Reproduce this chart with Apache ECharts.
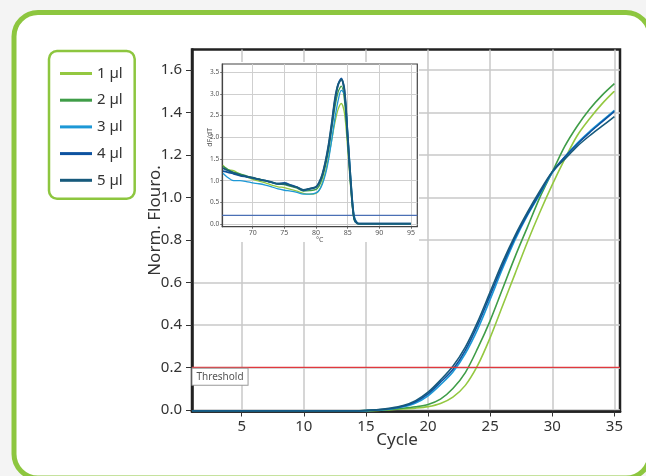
<!DOCTYPE html>
<html>
<head>
<meta charset="utf-8">
<script src="https://cdn.jsdelivr.net/npm/echarts@6/dist/echarts.min.js"></script>
<style>
  html, body { margin: 0; padding: 0; background: #f4f4f4; }
  #chart { width: 646px; height: 476px; }
</style>
</head>
<body>
<div id="chart"></div>
<script>
// amplification curves (main plot)
const cycles = [1, 2, 3, 4, 5, 6, 7, 8, 9, 10, 11, 12, 13, 14, 15, 16, 17, 18, 19, 20,
  21, 22, 23, 24, 25, 26, 27, 28, 29, 30, 31, 32, 33, 34, 35];
const vol1 = [-0.005, -0.005, -0.005, -0.005, -0.005, -0.005, -0.005, -0.005, -0.005, -0.005, -0.005, -0.005, -0.005, -0.005,
  -0.004, -0.003, 0.001, 0.004, 0.008, 0.015, 0.03, 0.06, 0.115, 0.21, 0.34, 0.49, 0.64, 0.79, 0.93, 1.06, 1.18, 1.29, 1.37, 1.44, 1.50];
const vol2 = [-0.005, -0.005, -0.005, -0.005, -0.005, -0.005, -0.005, -0.005, -0.005, -0.005, -0.005, -0.005, -0.005, -0.005,
  -0.004, -0.002, 0.002, 0.007, 0.014, 0.025, 0.05, 0.10, 0.175, 0.29, 0.42, 0.57, 0.72, 0.86, 1.00, 1.12, 1.24, 1.335, 1.415, 1.48, 1.535];
const vol3 = [-0.006, -0.006, -0.006, -0.006, -0.006, -0.006, -0.006, -0.006, -0.006, -0.006, -0.006, -0.006, -0.006, -0.006,
  -0.004, -0.001, 0.004, 0.014, 0.032, 0.066, 0.118, 0.178, 0.265, 0.38, 0.52, 0.665, 0.80, 0.915, 1.015, 1.115, 1.19, 1.255, 1.31, 1.36, 1.41];
const vol4 = [-0.006, -0.006, -0.006, -0.006, -0.006, -0.006, -0.006, -0.006, -0.006, -0.006, -0.006, -0.006, -0.006, -0.006,
  -0.003, 0.0, 0.006, 0.017, 0.038, 0.075, 0.13, 0.19, 0.28, 0.40, 0.54, 0.68, 0.81, 0.92, 1.02, 1.12, 1.19, 1.25, 1.305, 1.355, 1.405];
const vol5 = [-0.006, -0.006, -0.006, -0.006, -0.006, -0.006, -0.006, -0.006, -0.006, -0.006, -0.006, -0.006, -0.006, -0.006,
  -0.003, 0.001, 0.008, 0.02, 0.043, 0.083, 0.14, 0.205, 0.295, 0.415, 0.555, 0.695, 0.82, 0.93, 1.03, 1.12, 1.18, 1.24, 1.29, 1.335, 1.38];
const threshold = 0.2;
const cycleRange = [1, 35.45];
const fluoroRange = [-0.008, 1.696];
const xTicks = [5, 10, 15, 20, 25, 30, 35];
const yTicks = [0, 0.2, 0.4, 0.6, 0.8, 1.0, 1.2, 1.4, 1.6];

// melt curves (inset)
const meltTemps = [65.3, 66, 67, 68, 69, 70, 71, 72, 73, 74, 75, 76, 77, 78, 79, 80, 80.5, 81, 81.5, 82,
  82.5, 83, 83.5, 84, 84.5, 85, 85.5, 86, 86.5, 87, 88, 90, 92, 94, 95];
const melt1 = [1.36, 1.26, 1.23, 1.15, 1.09, 1.03, 0.99, 0.95, 0.90, 0.86, 0.84, 0.80, 0.76, 0.71, 0.69, 0.71, 0.78, 0.95, 1.2, 1.55,
  1.95, 2.35, 2.65, 2.78, 2.55, 1.75, 0.8, 0.12, 0.02, 0.01, 0.01, 0.01, 0.01, 0.01, 0.01];
const melt2 = [1.33, 1.27, 1.19, 1.16, 1.11, 1.07, 1.04, 1.0, 0.96, 0.92, 0.91, 0.87, 0.83, 0.76, 0.77, 0.80, 0.88, 1.06, 1.35, 1.72,
  2.2, 2.7, 3.05, 3.18, 2.85, 1.9, 0.85, 0.1, 0.01, 0.0, 0.0, 0.0, 0.0, 0.0, 0.0];
const melt3 = [1.17, 1.08, 1.0, 1.0, 0.98, 0.95, 0.93, 0.90, 0.86, 0.81, 0.78, 0.76, 0.73, 0.69, 0.69, 0.72, 0.78, 0.92, 1.15, 1.5,
  1.95, 2.45, 2.85, 3.08, 3.0, 2.15, 1.05, 0.22, 0.03, 0.01, 0.01, 0.01, 0.01, 0.01, 0.01];
const melt4 = [1.22, 1.20, 1.16, 1.12, 1.09, 1.06, 1.03, 1.0, 0.96, 0.93, 0.95, 0.90, 0.85, 0.78, 0.81, 0.85, 0.95, 1.13, 1.42, 1.8,
  2.3, 2.85, 3.22, 3.36, 3.05, 2.0, 0.92, 0.14, 0.02, 0.01, 0.01, 0.01, 0.01, 0.01, 0.01];
const melt5 = [1.29, 1.24, 1.18, 1.13, 1.10, 1.07, 1.03, 1.0, 0.97, 0.93, 0.93, 0.89, 0.85, 0.79, 0.82, 0.86, 0.96, 1.15, 1.45, 1.85,
  2.35, 2.9, 3.22, 3.33, 3.1, 2.05, 0.98, 0.16, 0.03, 0.01, 0.01, 0.01, 0.01, 0.01, 0.01];
const meltThreshold = 0.2;
const tempRange = [65.2, 96];
const dfdtRange = [-0.06, 3.69];
const meltXTicks = [70, 75, 80, 85, 90, 95];
const meltYTicks = [0, 0.5, 1.0, 1.5, 2.0, 2.5, 3.0, 3.5];

const labels = ["1 µl", "2 µl", "3 µl", "4 µl", "5 µl"];
const colors = ["#94c840", "#3f9d48", "#1d98d6", "#0d52a0", "#175a7c"];

const ampData = [vol1, vol2, vol3, vol4, vol5];
const meltData = [melt1, melt2, melt3, melt4, melt5];
const font = "Noto Sans";

let chart = echarts.init(document.getElementById("chart"));

let series = [];
ampData.forEach((vals, i) => {
  series.push({
    name: labels[i],
    type: "line",
    xAxisIndex: 0,
    yAxisIndex: 0,
    data: cycles.map((c, k) => [c, vals[k]]),
    symbol: "none",
    smooth: 0.3,
    lineStyle: { color: colors[i], width: 1.6 },
    itemStyle: { color: colors[i] },
    z: 2,
  });
});
// threshold line, drawn right to left so the end label sits at the left edge
series.push({
  name: "Threshold",
  type: "line",
  xAxisIndex: 0,
  yAxisIndex: 0,
  data: [[cycleRange[1], threshold], [cycleRange[0], threshold]],
  symbol: "none",
  silent: true,
  lineStyle: { color: "#e0393e", width: 1.2 },
  itemStyle: { color: "#e0393e" },
  z: 2,
  endLabel: {
    show: true,
    formatter: "Threshold",
    align: "left",
    verticalAlign: "top",
    distance: 0,
    offset: [0.5, 1.5],
    fontFamily: font,
    fontSize: 10,
    color: "#555",
    backgroundColor: "#fff",
    borderColor: "#999",
    borderWidth: 1,
    padding: [3, 4, 3, 4],
  },
});
meltData.forEach((vals, i) => {
  series.push({
    name: labels[i],
    type: "line",
    xAxisIndex: 1,
    yAxisIndex: 1,
    data: meltTemps.map((t, k) => [t, vals[k]]),
    symbol: "none",
    smooth: 0.3,
    lineStyle: { color: colors[i], width: i >= 3 ? 1.8 : 1.3 },
    itemStyle: { color: colors[i] },
    z: 5,
  });
});
series.push({
  name: "Melt threshold",
  type: "line",
  xAxisIndex: 1,
  yAxisIndex: 1,
  data: [[tempRange[0], meltThreshold], [tempRange[1], meltThreshold]],
  symbol: "none",
  silent: true,
  lineStyle: { color: "#4a6fb5", width: 1.2 },
  itemStyle: { color: "#4a6fb5" },
  z: 4,
});

let option = {
  animation: false,
  backgroundColor: "#f4f4f4",
  textStyle: { fontFamily: font },
  graphic: [
    {
      type: "rect",
      z: -1,
      shape: { x: 14, y: 12.5, width: 636, height: 465.5, r: 24 },
      style: { fill: "#fff", stroke: "#8dc63f", lineWidth: 5 },
    },
    {
      // white patch behind the inset
      type: "rect",
      z: 1,
      shape: { x: 194, y: 62, width: 225, height: 180 },
      style: { fill: "#fff" },
    },
  ],
  legend: {
    orient: "vertical",
    left: 49,
    top: 51,
    data: labels,
    icon: "rect",
    borderColor: "#8dc63f",
    borderWidth: 2.5,
    borderRadius: 8,
    padding: [15, 12, 11, 11],
    itemWidth: 32,
    itemHeight: 3,
    itemGap: 11.7,
    textStyle: { fontFamily: font, fontSize: 15, color: "#333" },
  },
  grid: [
    { left: 192, top: 49.5, right: 26, bottom: 64.5, show: true, borderColor: "#222", borderWidth: 2.5, z: 0 },
    { left: 222.3, top: 64, width: 195, height: 162.7, show: true, borderColor: "#444", borderWidth: 1.2, z: 3 },
  ],
  xAxis: [
    {
      type: "value",
      gridIndex: 0,
      min: cycleRange[0],
      max: cycleRange[1],
      name: "Cycle",
      nameLocation: "middle",
      nameGap: 20,
      nameMoveOverlap: false,
      nameTextStyle: { fontSize: 17, color: "#333", padding: [0, 18, 0, 0] },
      axisLine: { show: true, onZero: false, lineStyle: { color: "#222", width: 2.5 } },
      axisTick: { show: true, customValues: xTicks, length: 5, lineStyle: { color: "#333", width: 1 } },
      axisLabel: { customValues: xTicks, fontSize: 15, color: "#333", margin: 8 },
      splitLine: { show: true, lineStyle: { color: "#c9c9c9", width: 1.5 } },
    },
    {
      type: "value",
      gridIndex: 1,
      min: tempRange[0],
      max: tempRange[1],
      z: 3,
      name: "°C",
      nameLocation: "middle",
      nameGap: 10,
      nameMoveOverlap: false,
      nameTextStyle: { fontSize: 7, color: "#555" },
      axisLine: { show: true, onZero: false, lineStyle: { color: "#444", width: 1.2 } },
      axisTick: { show: true, customValues: meltXTicks, length: 2, lineStyle: { color: "#666" } },
      axisLabel: { customValues: meltXTicks, fontSize: 7, color: "#555", margin: 3 },
      splitLine: { show: true, lineStyle: { color: "#cfcfcf", width: 1 } },
    },
  ],
  yAxis: [
    {
      type: "value",
      gridIndex: 0,
      min: fluoroRange[0],
      max: fluoroRange[1],
      name: "Norm. Flouro.",
      nameLocation: "middle",
      nameGap: 28,
      nameMoveOverlap: false,
      nameTextStyle: { fontSize: 17, color: "#333", padding: [0, 0, 0, 20] },
      axisLine: { show: true, onZero: false, lineStyle: { color: "#222", width: 2.5 } },
      axisTick: { show: true, customValues: yTicks, length: 6, lineStyle: { color: "#333", width: 1 } },
      axisLabel: {
        customValues: yTicks,
        fontSize: 15,
        color: "#333",
        margin: 10,
        formatter: (v) => v.toFixed(1),
      },
      splitLine: { show: true, lineStyle: { color: "#c9c9c9", width: 1.5 } },
    },
    {
      type: "value",
      gridIndex: 1,
      min: dfdtRange[0],
      max: dfdtRange[1],
      z: 3,
      name: "dF/dT",
      nameLocation: "middle",
      nameGap: 9,
      nameMoveOverlap: false,
      nameTextStyle: { fontSize: 7, color: "#555", padding: [0, 0, 0, 16] },
      axisLine: { show: true, onZero: false, lineStyle: { color: "#444", width: 1.2 } },
      axisTick: { show: true, customValues: meltYTicks, length: 2, lineStyle: { color: "#666" } },
      axisLabel: {
        customValues: meltYTicks,
        fontSize: 6.5,
        color: "#555",
        margin: 3,
        formatter: (v) => v.toFixed(1),
      },
      splitLine: { show: true, lineStyle: { color: "#cfcfcf", width: 1 } },
    },
  ],
  series,
};

chart.setOption(option);
</script>
</body>
</html>
